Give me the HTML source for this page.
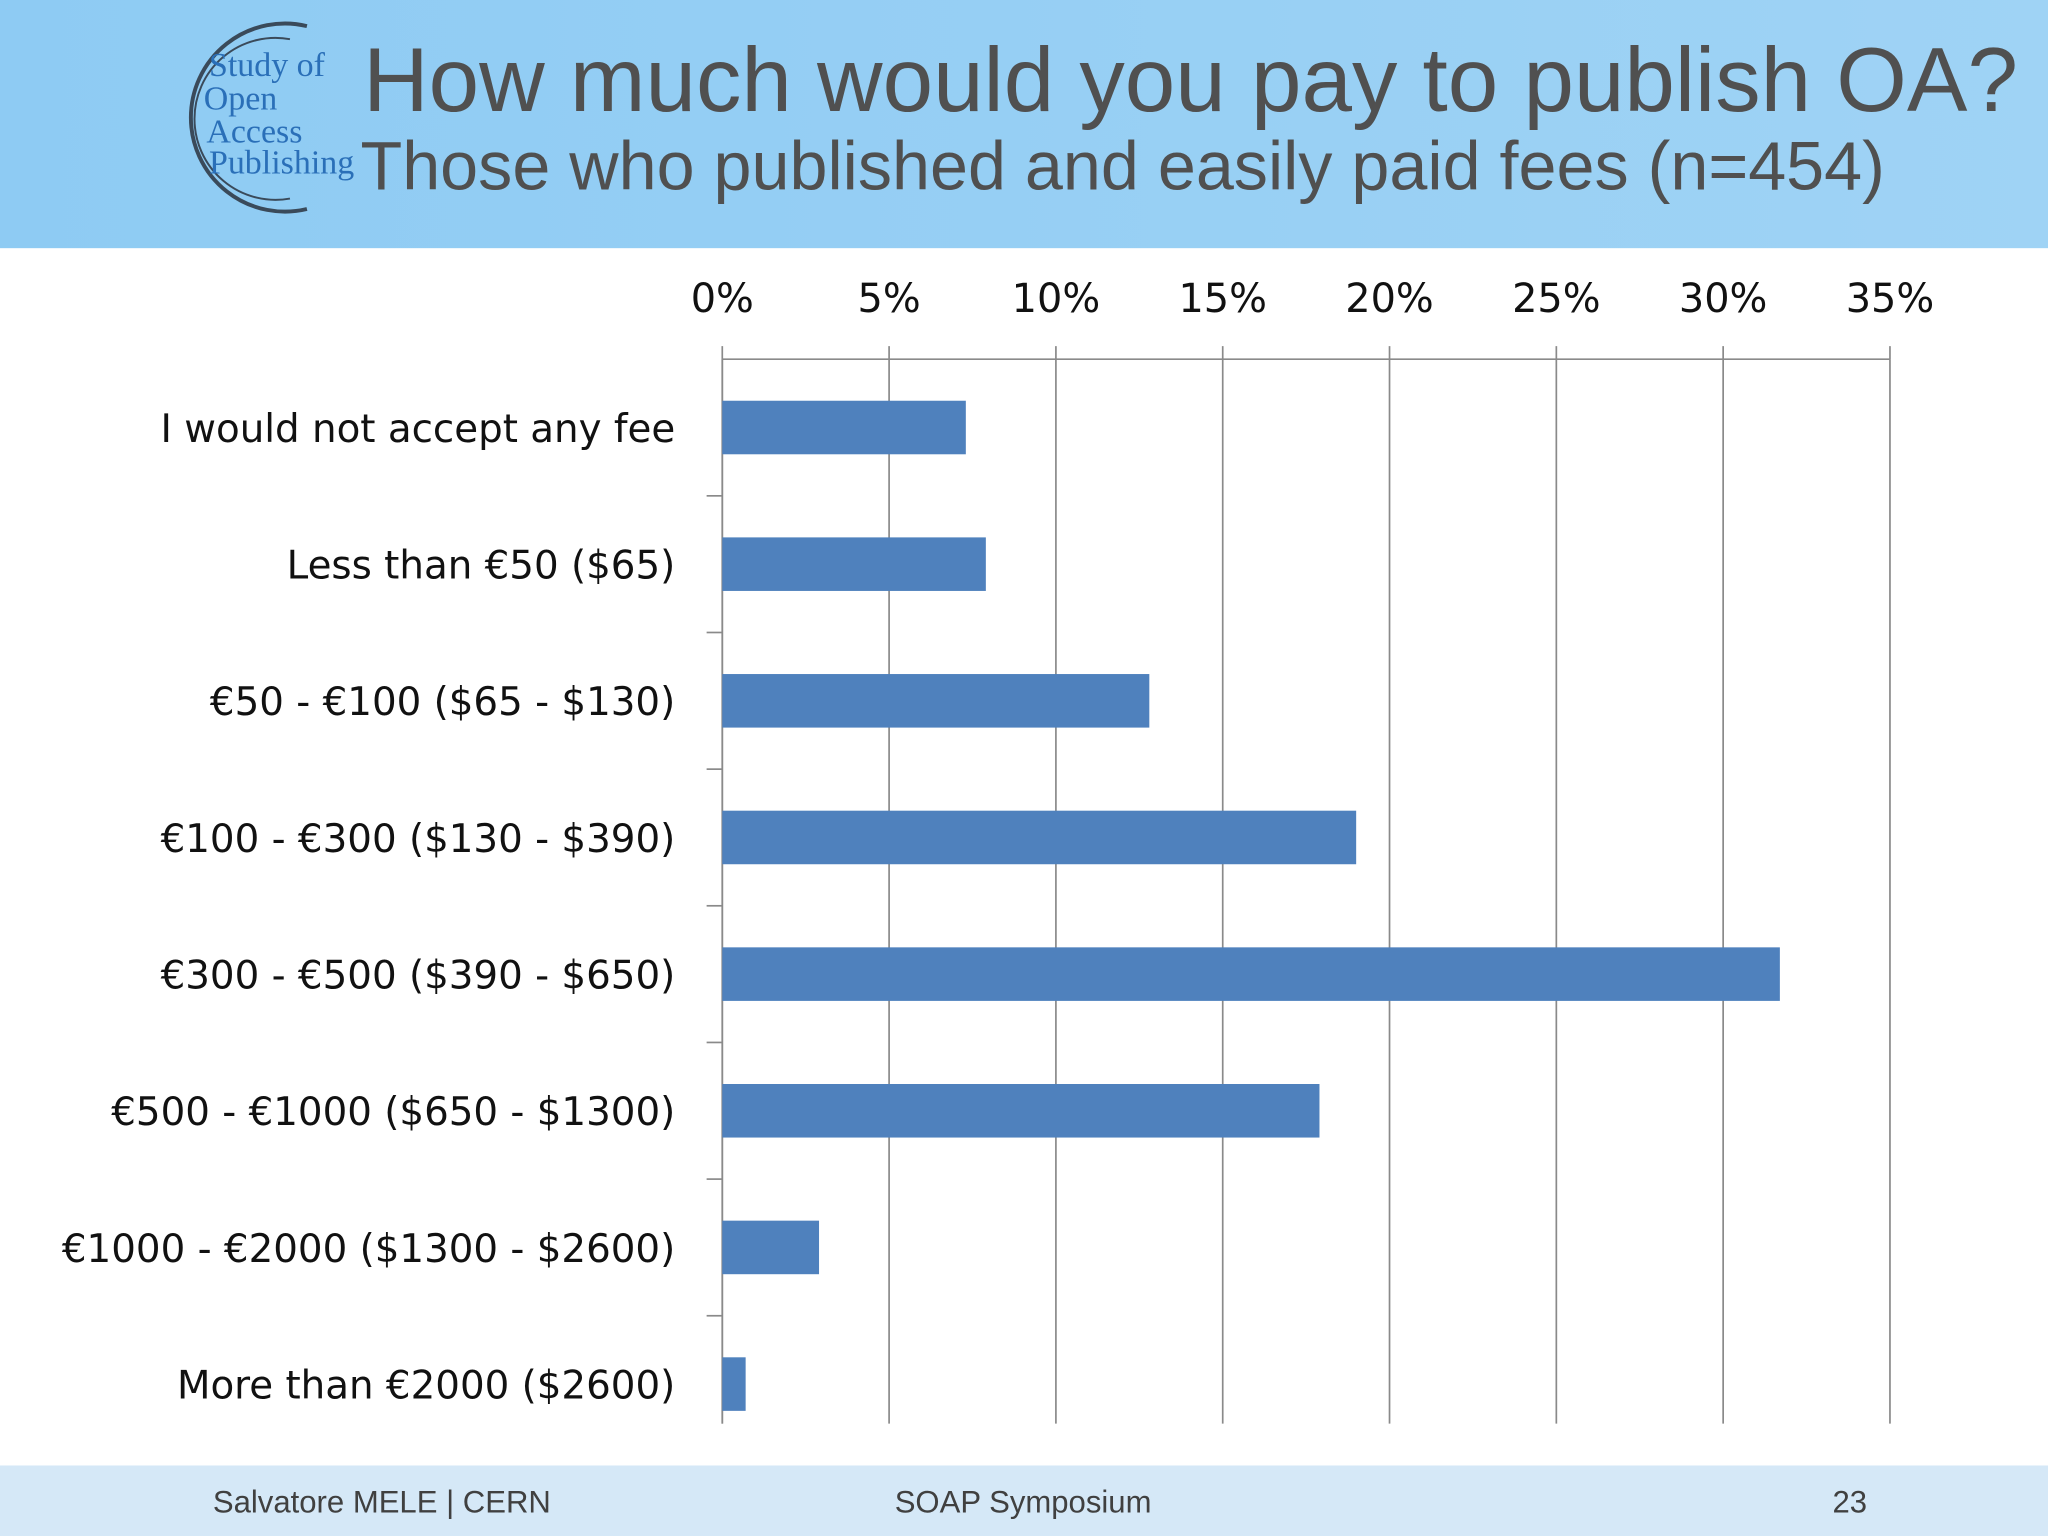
<!DOCTYPE html>
<html><head><meta charset="utf-8"><style>
html,body{margin:0;padding:0;background:#fff;}
svg{display:block;font-family:"Liberation Sans",sans-serif;}
</style></head><body>
<svg width="2048" height="1536" viewBox="0 0 1568 1176">
<defs><linearGradient id="hg" x1="0" x2="1" y1="0" y2="0"><stop offset="0" stop-color="#8ecbf3"/><stop offset="1" stop-color="#9fd3f5"/></linearGradient></defs>
<rect x="0" y="0" width="1568" height="190" fill="url(#hg)"/>
<g>
<path d="M235 20 A72 72 0 1 0 235 160" fill="none" stroke="#3a4a5a" stroke-width="3"/>
<path d="M222 30 A62 62 0 1 0 222 152" fill="none" stroke="#3a4a5a" stroke-width="1.5"/>
<text x="160" y="58" font-family="Liberation Serif,serif" font-size="26" fill="#2a6fb8">Study of</text>
<text x="156" y="84" font-family="Liberation Serif,serif" font-size="26" fill="#2a6fb8">Open</text>
<text x="158" y="109" font-family="Liberation Serif,serif" font-size="26" fill="#2a6fb8">Access</text>
<text x="160" y="133" font-family="Liberation Serif,serif" font-size="26" fill="#2a6fb8">Publishing</text>
</g>
<text x="278" y="85" font-size="69.5" fill="#505050">How much would you pay to publish OA?</text>
<text x="276" y="145" font-size="52.3" fill="#505050">Those who published and easily paid fees (n=454)</text>
<g id="chart"></g>
<rect x="0" y="1122" width="1568" height="54" fill="#d5e8f7"/>
<text x="163" y="1158" font-size="23.8" fill="#404040">Salvatore MELE | CERN</text>
<text x="685" y="1158" font-size="23.8" fill="#404040">SOAP Symposium</text>
<text x="1403" y="1158" font-size="23.8" fill="#404040">23</text>
</svg>
<script>
const categories=["I would not accept any fee","Less than €50 ($65)","€50 - €100 ($65 - $130)","€100 - €300 ($130 - $390)","€300 - €500 ($390 - $650)","€500 - €1000 ($650 - $1300)","€1000 - €2000 ($1300 - $2600)","More than €2000 ($2600)"];
const values=[7.3,7.9,12.8,19.0,31.7,17.9,2.9,0.7];
const ticks=[0,5,10,15,20,25,30,35];
(function(){
const NS="http://www.w3.org/2000/svg";
const g=document.getElementById('chart');
const x0=553,x1=1447,yTop=275,yBot=1112,bottomGrid=1090;
const xs=v=>x0+(v/35)*(x1-x0);
const band=(yBot-yTop)/categories.length;
const yc=i=>yTop+band*(i+0.5);
function mk(t,a){const e=document.createElementNS(NS,t);for(const k in a)e.setAttribute(k,a[k]);g.appendChild(e);return e;}
ticks.forEach(t=>{
 const l=mk('line',{x1:xs(t),x2:xs(t),y1:yTop,y2:bottomGrid,stroke:'#8a8a8a','stroke-width':1.3});
 
 
 const k=mk('line',{x1:xs(t),x2:xs(t),y1:265,y2:yTop,stroke:'#8a8a8a','stroke-width':1.3});
 
 
 const tx=mk('text',{x:xs(t),y:239,'text-anchor':'middle','font-size':30.5,fill:'#111','font-family':'"DejaVu Sans","Liberation Sans",sans-serif'});
 tx.textContent=t+'%';
 
 
});
const ax=mk('line',{x1:x0,x2:x1,y1:yTop,y2:yTop,stroke:'#8a8a8a','stroke-width':1.3});


const ay=mk('line',{x1:x0,x2:x0,y1:yTop,y2:bottomGrid,stroke:'#8a8a8a','stroke-width':1.3});


categories.forEach((c,i)=>{
 if(i>0){const s=mk('line',{x1:x0-12,x2:x0,y1:yTop+band*i,y2:yTop+band*i,stroke:'#8a8a8a','stroke-width':1.3});
 
 }
 const b=mk('rect',{x:x0,y:yc(i)-20.5,width:xs(values[i])-x0,height:41,fill:'#4f81bd'});
 
 
 const t=mk('text',{x:517,y:yc(i)+11,'text-anchor':'end','font-size':29.7,fill:'#111','font-family':'"DejaVu Sans","Liberation Sans",sans-serif'});
 t.textContent=c;
 
 
});
})();
</script>
</body></html>
